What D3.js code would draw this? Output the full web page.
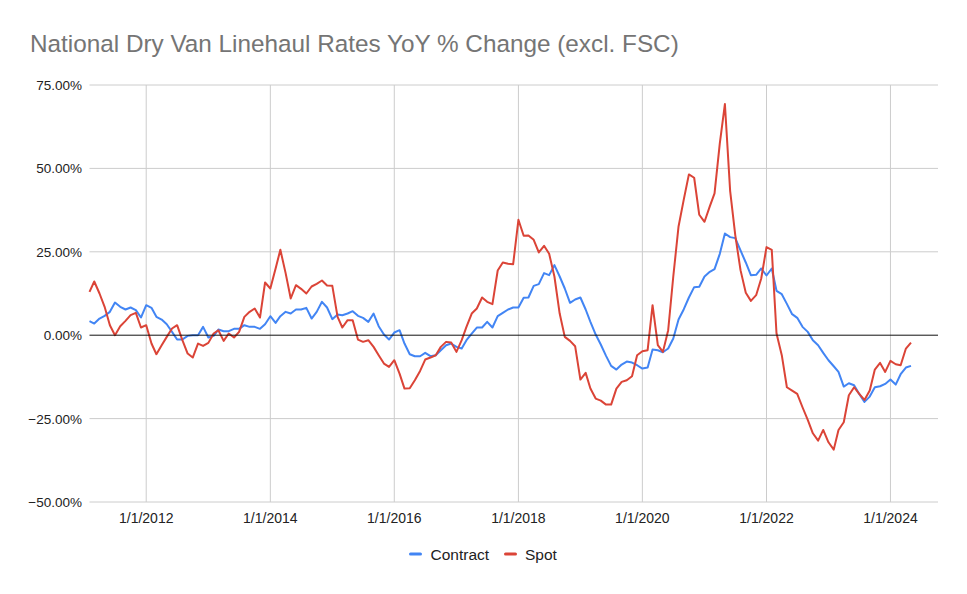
<!DOCTYPE html>
<html>
<head>
<meta charset="utf-8">
<script src="https://cdn.jsdelivr.net/npm/d3@7"></script>
<style>
  html, body { margin: 0; padding: 0; background: #fff; }
  svg { display: block; font-family: "Liberation Sans", Arial, sans-serif; }
</style>
</head>
<body>
<svg id="chart" width="967" height="594"></svg>
<script>
// ---- data ----
const title = "National Dry Van Linehaul Rates YoY % Change (excl. FSC)";
const firstMonth = "2011-02-01";   // monthly observations, Feb 2011 .. May 2024
const seriesNames = ["Contract", "Spot"];
const seriesColors = ["#4285F4", "#DB4437"];
const contract = [
  4.2, 3.5, 5, 5.8, 7, 9.8, 8.5, 7.7, 8.3, 7.5, 5.3, 9,
  8.2, 5.5, 4.7, 3.3, 1, -1.3, -1.3, -0.2, 0, 0, 2.5, -0.7,
  -0.2, 1.7, 1.2, 1.2, 1.9, 1.9, 3, 2.5, 2.5, 1.9, 3.3, 5.7,
  3.7, 5.7, 7, 6.5, 7.7, 7.7, 8.2, 5, 7, 10, 8.3, 4.8,
  6.2, 6, 6.5, 7.2, 5.8, 5.2, 4, 6.5, 2.7, 0.2, -1.3, 0.8,
  1.5, -2.5, -5.7, -6.3, -6.3, -5.3, -6.3, -6, -4.5, -3, -2.5, -3.5,
  -4, -1.5, 0.5, 2.3, 2.3, 4, 2.3, 5.7, 6.7, 7.7, 8.3, 8.3,
  11.2, 11.3, 14.8, 15.3, 18.6, 18, 21, 17.6, 14, 9.7, 10.7, 11.3,
  7.7, 4, 0.2, -2.8, -6.2, -9.2, -10.3, -8.8, -7.9, -8.2, -9, -10,
  -9.7, -4.3, -4.5, -5.1, -4, -1, 4.7, 7.8, 11.3, 14.4, 14.5, 17.6,
  19, 19.8, 24.4, 30.5, 29.4, 29.1, 25.4, 21.8, 18, 18.1, 20, 17.9,
  20, 13.3, 12.3, 9.4, 6.3, 5.2, 2.5, 1, -1.5, -3, -5.3, -7.5,
  -9.3, -11, -15.4, -14.4, -15, -17.6, -20, -18.4, -15.6, -15.3, -14.6, -13.3,
  -14.8, -11.7, -9.7, -9.2
];
const spot = [
  13.0, 16.1, 12.5, 8.5, 3, 0, 2.7, 4.3, 6, 6.7, 2.3, 3,
  -2.5, -5.7, -3, -0.5, 2, 3, -1.5, -5.5, -6.7, -2.5, -3.2, -2.3,
  0.5, 1.5, -1.7, 0.5, -0.7, 1, 5.5, 7, 8, 5.3, 15.8, 14,
  20, 25.6, 18.6, 11, 15, 13.9, 12.5, 14.6, 15.4, 16.4, 14.9, 14.8,
  5.5, 2.3, 4.5, 4.5, -1.3, -2, -1.5, -3.5, -6, -8.5, -9.5, -7.5,
  -11.5, -16, -15.9, -13.5, -10.7, -7.3, -6.7, -6, -3.5, -2, -2.2, -5,
  -1.5, 2.5, 6.5, 8, 11.3, 10, 9.3, 19.4, 21.8, 21.4, 21.3, 34.6,
  29.8, 29.9, 28.6, 24.8, 26.8, 24.4, 17.6, 6.5, -0.5, -1.7, -3.3, -13.3,
  -11.3, -16, -19, -19.6, -20.8, -20.8, -16, -14, -13.5, -12.3, -6, -4.8,
  -4.5, 9, -3, -5, 1.5, 17.6, 32.6, 40.7, 48.2, 47.2, 36.1, 34,
  38.6, 42.5, 57.5, 69.3, 43.2, 30, 19.5, 12.7, 10.3, 12, 17, 26.4,
  25.6, 0.5, -6, -15.6, -16.6, -17.6, -21.6, -25.4, -29.4, -31.6, -28.4, -32.1,
  -34.3, -28.4, -26.1, -18, -15.6, -17.6, -19.4, -16.6, -10.3, -8.3, -11, -7.7,
  -8.7, -9, -4, -2.2
];
const yTicks = [75, 50, 25, 0, -25, -50];
const xTickYears = [2012, 2014, 2016, 2018, 2020, 2022, 2024];

// ---- chart ----
const svg = d3.select("#chart");
const start = new Date(firstMonth + "T00:00:00");
const dates = contract.map((_, i) => d3.timeMonth.offset(start, i));
const last = dates[dates.length - 1];

const plotLeft = 89.5, plotRight = 938, lastX = 911;
const x = d3.scaleTime().domain([start, last]).range([plotLeft, lastX]);
const y = d3.scaleLinear().domain([-50, 75]).range([502, 85]);

// title
svg.append("text")
  .attr("x", 30).attr("y", 52)
  .attr("fill", "#757575")
  .attr("font-size", 24.3)
  .text(title);

// horizontal gridlines
svg.append("g").selectAll("line").data(yTicks.filter(d => d !== 0)).join("line")
  .attr("x1", plotLeft).attr("x2", plotRight)
  .attr("y1", d => y(d)).attr("y2", d => y(d))
  .attr("stroke", "#cccccc").attr("stroke-width", 1);

// vertical gridlines
const xTicks = xTickYears.map(yr => new Date(yr, 0, 1));
svg.append("g").selectAll("line").data(xTicks).join("line")
  .attr("x1", d => x(d)).attr("x2", d => x(d))
  .attr("y1", y(75)).attr("y2", y(-50))
  .attr("stroke", "#cccccc").attr("stroke-width", 1);

// y labels
const fmtPct = d3.format(".2f");
svg.append("g").selectAll("text").data(yTicks).join("text")
  .attr("x", 82).attr("y", d => y(d) + 5)
  .attr("text-anchor", "end")
  .attr("font-size", 13.5)
  .attr("fill", "#222")
  .text(d => fmtPct(d) + "%");

// x labels
const fmtDate = d => (d.getMonth() + 1) + "/" + d.getDate() + "/" + d.getFullYear();
svg.append("g").selectAll("text").data(xTicks).join("text")
  .attr("x", d => x(d)).attr("y", 523)
  .attr("text-anchor", "middle")
  .attr("font-size", 14)
  .attr("fill", "#222")
  .text(fmtDate);

// lines
const line = d3.line().x((d, i) => x(dates[i])).y(d => y(d));
[contract, spot].forEach((s, k) => {
  svg.append("path")
    .datum(s)
    .attr("fill", "none")
    .attr("stroke", seriesColors[k])
    .attr("stroke-width", 2)
    .attr("stroke-linejoin", "round")
    .attr("d", line);
});

// zero baseline on top
svg.append("line")
  .attr("x1", plotLeft).attr("x2", plotRight)
  .attr("y1", y(0)).attr("y2", y(0))
  .attr("stroke", "#111").attr("stroke-width", 1);

// legend
const legendItems = [{x: 409, tx: 430.5}, {x: 504, tx: 525}];
seriesNames.forEach((name, k) => {
  svg.append("rect")
    .attr("x", legendItems[k].x).attr("y", 552.5)
    .attr("width", 13).attr("height", 3).attr("rx", 1.5)
    .attr("fill", seriesColors[k]);
  svg.append("text")
    .attr("x", legendItems[k].tx).attr("y", 559.5)
    .attr("font-size", 15.5)
    .attr("fill", "#222")
    .text(name);
});
</script>
</body>
</html>
